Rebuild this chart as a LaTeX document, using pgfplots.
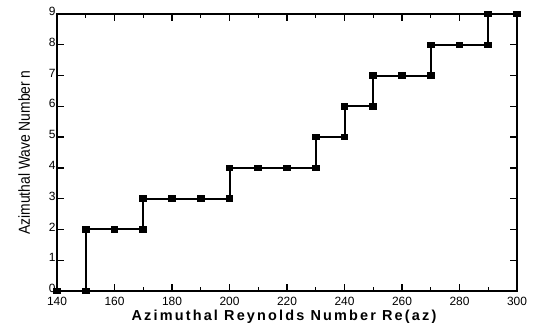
\documentclass[border=0pt]{standalone}
\usepackage{fontspec}
\setmainfont{Liberation Sans}
\newfontfamily\narrowfont[FakeStretch=0.87]{Liberation Sans}
\usepackage{pgfplots}
\pgfplotsset{compat=1.18}
\begin{document}
\begin{tikzpicture}
\path[use as bounding box] (-57bp,-33bp) rectangle (476bp,291bp);
\begin{axis}[
  at={(0,0)}, anchor=south west,
  scale only axis,
  width=460bp, height=277bp,
  xmin=140, xmax=300, ymin=0, ymax=9,
  xtick={140,160,...,300},
  minor xtick={150,170,...,290},
  ytick={0,1,...,9},
  tick align=inside,
  major tick length=7bp,
  minor tick length=4bp,
  tick style={line width=1.3bp,black},
  axis line style={line width=2bp},
  /pgf/number format/assume math mode=true,
  ticklabel style={font=\fontsize{12}{12}\selectfont},
  xticklabel style={yshift=-3bp},
  yticklabel style={xshift=2bp, yshift=2.5bp},
  xlabel={\bfseries\addfontfeature{LetterSpace=15}Azimuthal Reynolds Number Re(az)},
  xlabel style={font=\fontsize{14.5}{14.5}\selectfont, yshift=3bp, xshift=-3bp},
  ylabel={\narrowfont Azimuthal Wave Number n},
  ylabel style={font=\fontsize{16}{16}\selectfont, yshift=12bp},
  clip=false,
]
\addplot[black, line width=2bp, mark=square*, mark size=2.2bp, mark options={solid, fill=black, xscale=1.3}] coordinates {
(140,0) (150,0) (150,2) (160,2) (170,2) (170,3) (180,3) (190,3) (200,3) (200,4)
(210,4) (220,4) (230,4) (230,5) (240,5) (240,6) (250,6) (250,7) (260,7) (270,7)
(270,8) (280,8) (290,8) (290,9) (300,9)
};
\end{axis}
\end{tikzpicture}
\end{document}
